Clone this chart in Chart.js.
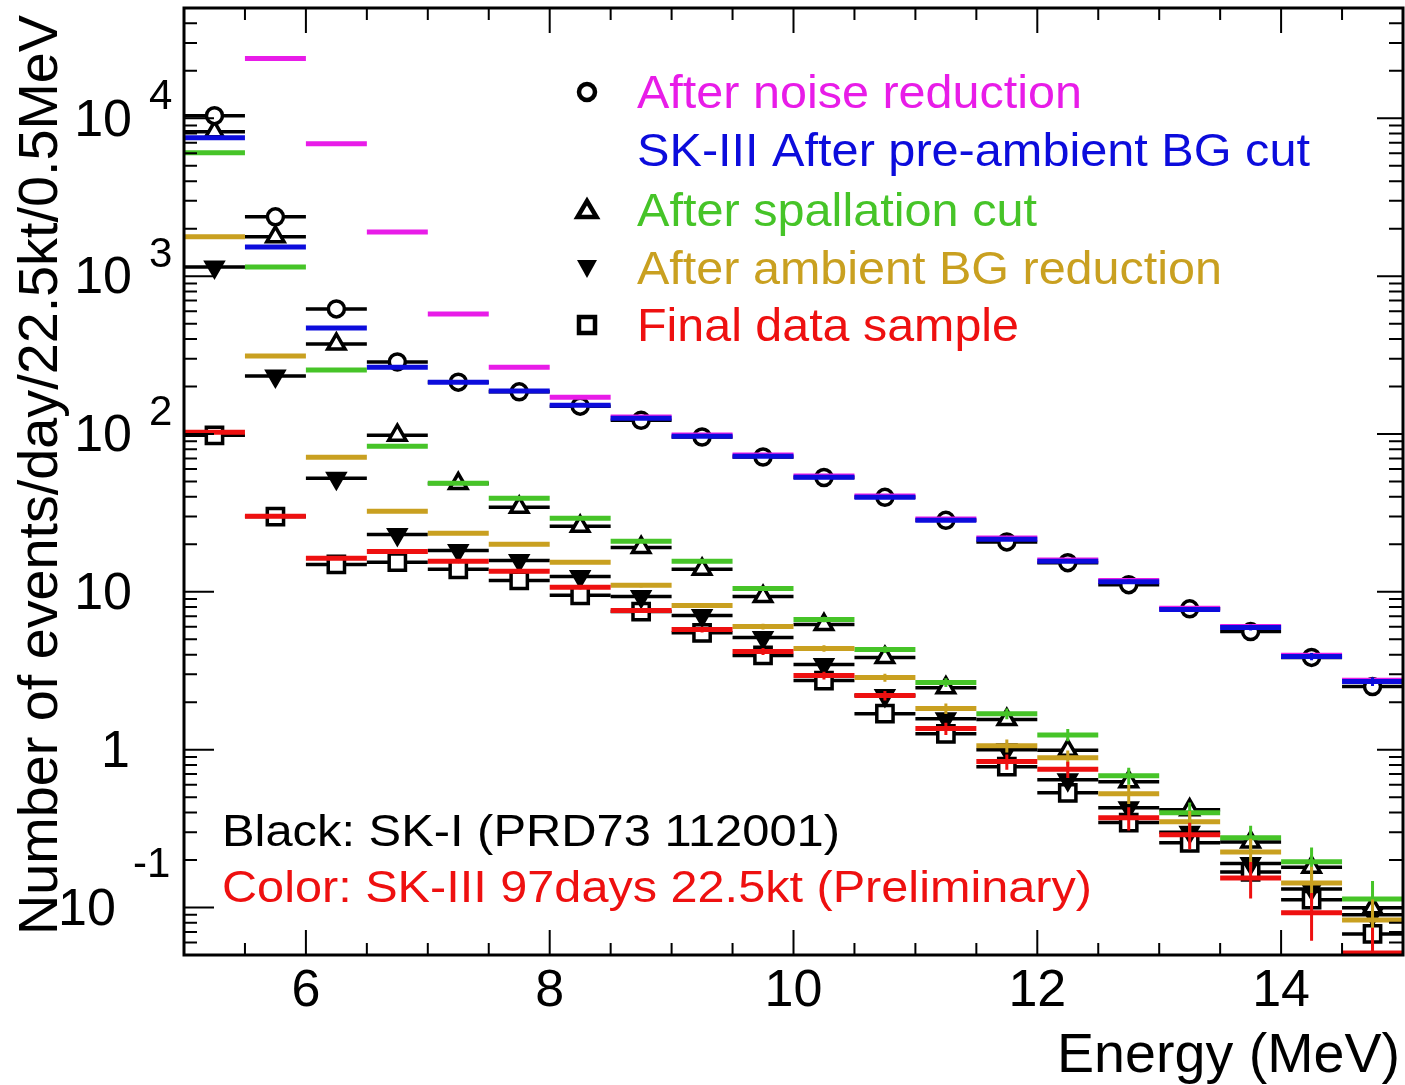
<!doctype html>
<html lang="en">
  <head>
    <meta charset="UTF-8" />
    <title>SK-III energy spectrum after each reduction step</title>
    <script src="https://cdn.jsdelivr.net/npm/chart.js"></script>
    <style>
      html,
      body {
        margin: 0;
        padding: 0;
        background: #fff;
      }
      .chart-container {
        position: relative;
        width: 1405px;
        height: 1085px;
      }
    </style>
  </head>
  <body>
    <div class="chart-container">
      <canvas id="spectrumChart" width="1405" height="1085"></canvas>
    </div>

    <script>
      // bin centers (MeV), each bin is 0.5 MeV wide
      const energyBins = [5.25, 5.75, 6.25, 6.75, 7.25, 7.75, 8.25, 8.75, 9.25, 9.75, 10.25, 10.75, 11.25, 11.75, 12.25, 12.75, 13.25, 13.75, 14.25, 14.75]
      const binHalf = 0.25

      // SK-III (colored bars)
      const noiseSK3 = [null, 23900, 6900, 1906, 575, 265, 171, 128, 98.5, 73.5, 54.2, 40.4, 28.9, 21.9, 15.9, 11.8, 7.86, 6.04, 3.96, 2.75]
      const preAmbSK3 = [7530, 1531, 469, 265, 213, 187, 152, 126, 96.8, 72.3, 53.2, 39.7, 28.4, 21.5, 15.6, 11.6, 7.73, 5.94, 3.89, 2.7]
      const spallSK3 = [6050, 1143, 254, 83.7, 48.7, 39.2, 29.2, 20.9, 15.6, 10.5, 6.68, 4.31, 2.66, 1.69, 1.24, 0.684, 0.398, 0.277, 0.195, 0.113]
      const ambSK3 = [1775, 312, 71.3, 32.4, 23.5, 20.0, 15.4, 11.0, 8.2, 6.03, 4.38, 2.86, 1.82, 1.06, 0.89, 0.526, 0.349, 0.225, 0.143, 0.0834]
      const finalSK3 = [102.6, 30.1, 16.3, 18.0, 15.6, 13.5, 10.7, 7.62, 5.77, 4.19, 2.95, 2.2, 1.36, 0.84, 0.75, 0.37, 0.289, 0.154, 0.0925, 0.0515]

      // SK-III statistical errors
      const preAmbErr = [8.8, 4.0, 2.2, 1.65, 1.48, 1.39, 1.25, 1.14, 1.0, 0.86, 0.74, 0.64, 0.54, 0.47, 0.4, 0.35, 0.28, 0.25, 0.2, 0.17]
      const spallErr = [7.9, 3.4, 1.6, 0.93, 0.71, 0.64, 0.55, 0.46, 0.4, 0.33, 0.26, 0.21, 0.17, 0.13, 0.11, 0.084, 0.064, 0.053, 0.045, 0.034]
      const ambErr = [4.3, 1.8, 0.86, 0.58, 0.49, 0.45, 0.4, 0.34, 0.29, 0.25, 0.21, 0.17, 0.14, 0.1, 0.096, 0.074, 0.06, 0.048, 0.038, 0.029]
      const finalErr = [1.03, 0.56, 0.41, 0.43, 0.4, 0.37, 0.33, 0.28, 0.24, 0.21, 0.17, 0.15, 0.12, 0.093, 0.088, 0.062, 0.055, 0.04, 0.031, 0.023]

      // SK-I (black bars with markers)
      const noiseSK1 = [10400, 2376, 620, 286, 213, 185, 150, 122, 95.7, 71.5, 53.0, 39.7, 28.4, 20.7, 15.3, 11.1, 7.8, 5.6, 3.84, 2.51]
      const spallSK1 = [8220, 1775, 371, 98.3, 48.5, 34.3, 26.0, 19.1, 13.9, 9.35, 6.2, 3.84, 2.47, 1.55, 0.99, 0.627, 0.416, 0.26, 0.18, 0.0995]
      const ambSK1 = [1143, 233, 52.4, 23.1, 18.3, 15.8, 12.5, 9.35, 7.08, 5.14, 3.46, 2.2, 1.57, 1.0, 0.645, 0.429, 0.3, 0.19, 0.131, 0.09]
      const finalSK1 = [98, 30, 14.9, 15.4, 13.9, 11.8, 9.5, 7.5, 5.5, 3.95, 2.74, 1.69, 1.26, 0.78, 0.533, 0.345, 0.257, 0.168, 0.112, 0.068]

      const xTickLabels = ['6', '8', '10', '12', '14']
      const legendLabels = ['After noise reduction', 'SK-III After pre-ambient BG cut', 'After spallation cut', 'After ambient BG reduction', 'Final data sample']
      const noteLabels = ['Black: SK-I (PRD73 112001)', 'Color: SK-III 97days 22.5kt (Preliminary)']

      const MAGENTA = '#e81ce8'
      const BLUE = '#0c0cdc'
      const GREEN = '#46c428'
      const GOLD = '#c9a020'
      const RED = '#ee1010'
      const FONT = '"Liberation Sans", Arial, sans-serif'

      // each bin becomes a horizontal segment, separated by a gap point
      function binSegments(values) {
        const pts = []
        values.forEach((v, i) => {
          if (v == null) return
          pts.push({ x: energyBins[i] - binHalf, y: v })
          pts.push({ x: energyBins[i] + binHalf, y: v })
          pts.push({ x: energyBins[i] + binHalf, y: null })
        })
        return pts
      }

      function errorSegments(values, errs) {
        const pts = []
        values.forEach((v, i) => {
          if (v == null) return
          pts.push({ x: energyBins[i], y: v - errs[i] })
          pts.push({ x: energyBins[i], y: v + errs[i] })
          pts.push({ x: energyBins[i], y: null })
        })
        return pts
      }

      function markerPoints(values) {
        return values.map((v, i) => ({ x: energyBins[i], y: v }))
      }

      function barSet(values, color, width) {
        return {
          data: binSegments(values),
          borderColor: color,
          borderWidth: width,
          borderCapStyle: 'butt',
          pointRadius: 0,
          spanGaps: false,
          clip: 0
        }
      }

      function errSet(values, errs, color) {
        return {
          data: errorSegments(values, errs),
          borderColor: color,
          borderWidth: 3,
          borderCapStyle: 'butt',
          pointRadius: 0,
          spanGaps: false,
          clip: 0
        }
      }

      function markerSet(values, style, radius, fill, rotation) {
        return {
          data: markerPoints(values),
          showLine: false,
          pointStyle: style,
          pointRadius: radius,
          pointRotation: rotation || 0,
          pointBorderColor: '#000',
          pointBorderWidth: 3.5,
          pointBackgroundColor: fill,
          clip: 0
        }
      }

      // fit text horizontally to a given width
      function fitText(ctx, text, x, y, width, size, color) {
        ctx.save()
        ctx.font = size + 'px ' + FONT
        ctx.fillStyle = color
        ctx.textAlign = 'left'
        ctx.textBaseline = 'middle'
        const w = ctx.measureText(text).width
        ctx.translate(x, y)
        ctx.scale(width / w, 1)
        ctx.fillText(text, 0, 0)
        ctx.restore()
      }

      const rootFrame = {
        id: 'rootFrame',
        afterDraw: (chart) => {
          const ctx = chart.ctx
          const a = chart.chartArea
          const xs = chart.scales.x
          const ys = chart.scales.y
          ctx.save()

          // frame
          ctx.strokeStyle = '#000'
          ctx.lineWidth = 3
          ctx.strokeRect(a.left, a.top, a.right - a.left, a.bottom - a.top)

          // x ticks (inside, bottom and top)
          ctx.lineWidth = 2
          for (let k = 11; k <= 29; k++) {
            const v = k / 2
            const px = xs.getPixelForValue(v)
            const len = v % 2 === 0 ? 25 : 12
            ctx.beginPath()
            ctx.moveTo(px, a.bottom)
            ctx.lineTo(px, a.bottom - len)
            ctx.moveTo(px, a.top)
            ctx.lineTo(px, a.top + len)
            ctx.stroke()
          }

          // y ticks (log, inside, left and right)
          for (let n = -2; n <= 4; n++) {
            for (let k = 1; k <= 9; k++) {
              const v = k * Math.pow(10, n)
              if (v < ys.min * 0.999 || v > ys.max * 1.001) continue
              const py = ys.getPixelForValue(v)
              const major = k === 1
              ctx.beginPath()
              ctx.moveTo(a.left, py)
              ctx.lineTo(a.left + (major ? 30 : 13), py)
              ctx.moveTo(a.right, py)
              ctx.lineTo(a.right - (major ? 26 : 14), py)
              ctx.stroke()
            }
          }

          // x tick labels
          ctx.fillStyle = '#000'
          ctx.font = '52px ' + FONT
          ctx.textAlign = 'center'
          ctx.textBaseline = 'middle'
          xTickLabels.forEach((t) => {
            ctx.fillText(t, xs.getPixelForValue(Number(t)), 992)
          })

          // y tick labels, ROOT style 10^n
          const base = '52px ' + FONT
          const sup = '42px ' + FONT
          ;[4, 3, 2].forEach((n) => {
            const py = ys.getPixelForValue(Math.pow(10, n)) + 3
            ctx.font = base
            ctx.textAlign = 'right'
            ctx.fillText('10', 132, py)
            ctx.font = sup
            ctx.textAlign = 'left'
            ctx.fillText(String(n), 149, py - 24)
          })
          ctx.font = base
          ctx.textAlign = 'right'
          ctx.fillText('10', 132, ys.getPixelForValue(10) + 3)
          ctx.fillText('1', 130, ys.getPixelForValue(1) + 3)
          const pm1 = ys.getPixelForValue(0.1) + 3
          ctx.textAlign = 'left'
          ctx.fillText('10', 58, pm1)
          ctx.font = sup
          ctx.fillText('-1', 133, pm1 - 45)

          // axis titles
          fitText(ctx, 'Energy (MeV)', 1057, 1057, 343, 55, '#000')
          ctx.save()
          ctx.translate(42, 935)
          ctx.rotate(-Math.PI / 2)
          fitText(ctx, 'Number of events/day/22.5kt/0.5MeV', 0, 0, 920, 56, '#000')
          ctx.restore()

          // legend
          const rows = [92, 150, 210, 268, 325]
          const colors = [MAGENTA, BLUE, GREEN, GOLD, RED]
          const widths = [445, 673, 400, 585, 382]
          legendLabels.forEach((t, i) => fitText(ctx, t, 637, rows[i] + 3, widths[i], 46, colors[i]))

          const mx = 587
          ctx.strokeStyle = '#000'
          ctx.fillStyle = '#000'
          ctx.lineWidth = 4.5
          ctx.beginPath()
          ctx.arc(mx, rows[0], 8, 0, Math.PI * 2)
          ctx.stroke()
          ctx.beginPath()
          ctx.moveTo(mx, rows[2] - 9)
          ctx.lineTo(mx + 9.5, rows[2] + 7)
          ctx.lineTo(mx - 9.5, rows[2] + 7)
          ctx.closePath()
          ctx.stroke()
          ctx.beginPath()
          ctx.moveTo(mx - 10, rows[3] - 8)
          ctx.lineTo(mx + 10, rows[3] - 8)
          ctx.lineTo(mx, rows[3] + 10)
          ctx.closePath()
          ctx.fill()
          ctx.strokeRect(mx - 8, rows[4] - 8, 16, 16)

          // notes
          fitText(ctx, noteLabels[0], 222, 834, 618, 44, '#000')
          fitText(ctx, noteLabels[1], 222, 890, 870, 44, RED)

          ctx.restore()
        }
      }

      const ctx = document.getElementById('spectrumChart').getContext('2d')
      const spectrumChart = new Chart(ctx, {
        type: 'line',
        data: {
          datasets: [
            // SK-III on top (first dataset is drawn last)
            errSet(finalSK3, finalErr, RED),
            errSet(ambSK3, ambErr, GOLD),
            errSet(spallSK3, spallErr, GREEN),
            errSet(preAmbSK3, preAmbErr, BLUE),
            barSet(finalSK3, RED, 5),
            barSet(ambSK3, GOLD, 5),
            barSet(spallSK3, GREEN, 5),
            barSet(preAmbSK3, BLUE, 5),
            barSet(noiseSK3, MAGENTA, 5),
            // SK-I
            markerSet(noiseSK1, 'circle', 8, '#fff'),
            markerSet(spallSK1, 'triangle', 10, '#fff'),
            markerSet(ambSK1, 'triangle', 9.5, '#000', 180),
            markerSet(finalSK1, 'rect', 11.5, '#fff'),
            barSet(noiseSK1, '#000', 3.5),
            barSet(spallSK1, '#000', 3.5),
            barSet(ambSK1, '#000', 3.5),
            barSet(finalSK1, '#000', 3.5)
          ]
        },
        options: {
          responsive: false,
          animation: false,
          events: [],
          layout: {
            autoPadding: false,
            padding: { left: 184, right: 2, top: 8, bottom: 130 }
          },
          plugins: {
            legend: { display: false },
            tooltip: { enabled: false }
          },
          scales: {
            x: { type: 'linear', min: 5, max: 15, display: false },
            y: { type: 'logarithmic', min: 0.05, max: 50000, display: false }
          }
        },
        plugins: [rootFrame]
      })
    </script>
  </body>
</html>
